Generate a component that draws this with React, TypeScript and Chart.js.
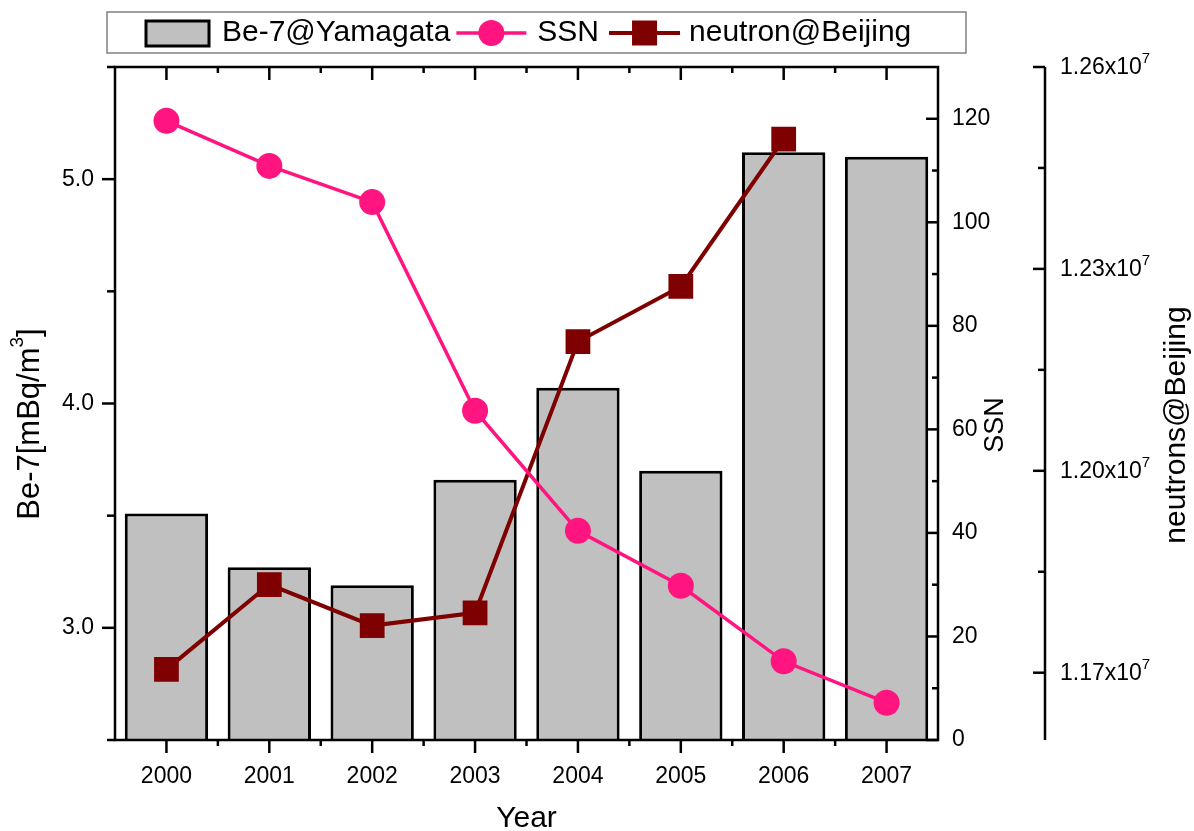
import React, { useEffect, useRef } from 'react';
import { Chart, registerables } from 'chart.js';

Chart.register(...registerables);

const years = ['2000', '2001', '2002', '2003', '2004', '2005', '2006', '2007'];
const be7Values = [3.51, 3.27, 3.19, 3.66, 4.07, 3.70, 5.12, 5.10];
const ssnValues = [119.6, 110.9, 103.9, 63.6, 40.4, 29.8, 15.2, 7.2];
const neutronValues: (number | null)[] = [11705000, 11831000, 11770000, 11789000, 12192000, 12274000, 12493000, null];

const be7Ticks = [3.0, 4.0, 5.0];
const be7Minor = [2.5, 3.5, 4.5, 5.5];
const ssnTicks = [0, 20, 40, 60, 80, 100, 120];
const ssnMinor = [10, 30, 50, 70, 90, 110];
const neutronTicks = [11700000, 12000000, 12300000, 12600000];
const neutronTickMantissa = ['1.17', '1.20', '1.23', '1.26'];
const neutronMinor = [11850000, 12150000, 12450000];

const SSN_COLOR = '#FF1480';
const N_COLOR = '#7F0000';
const BAR_FILL = '#C0C0C0';
const FONT = '"Liberation Sans", Arial, sans-serif';

function drawSupText(ctx: CanvasRenderingContext2D, parts: { t: string; sup?: boolean }[], x: number, y: number, size: number, supSize: number, rise: number, align: 'left' | 'center') {
  let total = 0;
  const widths = parts.map(p => {
    ctx.font = `${p.sup ? supSize : size}px ${FONT}`;
    const w = ctx.measureText(p.t).width;
    total += w;
    return w;
  });
  let cx = align === 'center' ? x - total / 2 : x;
  ctx.textAlign = 'left';
  ctx.textBaseline = 'middle';
  parts.forEach((p, i) => {
    ctx.font = `${p.sup ? supSize : size}px ${FONT}`;
    ctx.fillText(p.t, cx, p.sup ? y - rise : y);
    cx += widths[i];
  });
}

const decorPlugin = {
  id: 'decor',
  afterDraw(chart: any) {
    const ctx: CanvasRenderingContext2D = chart.ctx;
    const { left, right, top, bottom } = chart.chartArea;
    const xS = chart.scales.x;
    const yL = chart.scales.y;
    const yS = chart.scales.ySSN;
    const yN = chart.scales.yN;
    ctx.save();
    ctx.strokeStyle = '#000';
    ctx.fillStyle = '#000';
    ctx.lineWidth = 2.5;
    ctx.lineCap = 'butt';

    const line = (x1: number, y1: number, x2: number, y2: number) => {
      ctx.beginPath();
      ctx.moveTo(x1, y1);
      ctx.lineTo(x2, y2);
      ctx.stroke();
    };

    // frame
    ctx.beginPath();
    ctx.rect(left, top, right - left, bottom - top);
    ctx.stroke();

    // x ticks bottom (outward) and top (inward)
    const n = years.length;
    for (let i = 0; i < n; i++) {
      const px = xS.getPixelForValue(i);
      line(px, bottom, px, bottom + 13);
      line(px, top, px, top + 13);
      if (i < n - 1) {
        const mx = (px + xS.getPixelForValue(i + 1)) / 2;
        line(mx, bottom, mx, bottom + 6);
        line(mx, top, mx, top + 6);
      }
    }

    // left axis ticks (outward)
    be7Ticks.forEach(v => { const py = yL.getPixelForValue(v); line(left - 13, py, left, py); });
    be7Minor.forEach(v => { const py = yL.getPixelForValue(v); line(left - 8, py, left, py); });

    // SSN axis ticks (inward)
    ssnTicks.forEach(v => { const py = yS.getPixelForValue(v); line(right - 12, py, right, py); });
    ssnMinor.forEach(v => { const py = yS.getPixelForValue(v); line(right - 6, py, right, py); });

    // neutron axis
    const nx = yN.left;
    line(nx, yN.getPixelForValue(yN.max), nx, yN.getPixelForValue(yN.min));
    neutronTicks.forEach((v, i) => {
      const py = yN.getPixelForValue(v);
      line(nx - 12, py, nx, py);
      drawSupText(ctx, [{ t: neutronTickMantissa[i] + 'x10' }, { t: '7', sup: true }], nx + 15, py + 1, 23, 15, 9, 'left');
    });
    neutronMinor.forEach(v => { const py = yN.getPixelForValue(v); line(nx - 7, py, nx, py); });

    // axis titles
    ctx.fillStyle = '#000';
    ctx.font = `30px ${FONT}`;
    ctx.textAlign = 'center';
    ctx.textBaseline = 'alphabetic';
    ctx.fillText('Year', (left + right) / 2, 827);

    ctx.save();
    ctx.translate(30, 424);
    ctx.rotate(-Math.PI / 2);
    drawSupText(ctx, [{ t: 'Be-7[mBq/m' }, { t: '3', sup: true }, { t: ']' }], 0, 0, 31, 19, 12, 'center');
    ctx.restore();

    ctx.save();
    ctx.translate(996, 425);
    ctx.rotate(-Math.PI / 2);
    ctx.font = `27px ${FONT}`;
    ctx.textAlign = 'center';
    ctx.textBaseline = 'middle';
    ctx.fillText('SSN', 0, 0);
    ctx.restore();

    ctx.save();
    ctx.translate(1177, 425);
    ctx.rotate(-Math.PI / 2);
    ctx.font = `30px ${FONT}`;
    ctx.textAlign = 'center';
    ctx.textBaseline = 'middle';
    ctx.fillText('neutrons@Beijing', 0, 0);
    ctx.restore();

    // legend
    const ds = chart.data.datasets;
    const barDs = ds.find((d: any) => d.yAxisID === 'y');
    const ssnDs = ds.find((d: any) => d.yAxisID === 'ySSN');
    const nDs = ds.find((d: any) => d.yAxisID === 'yN');
    const ly = 33;
    ctx.lineWidth = 1.5;
    ctx.strokeStyle = '#808080';
    ctx.strokeRect(107, 12, 966 - 107, 41);

    let lx = 146;
    ctx.fillStyle = barDs.backgroundColor;
    ctx.fillRect(lx, 21, 63, 25);
    ctx.lineWidth = 3;
    ctx.strokeStyle = '#000';
    ctx.strokeRect(lx, 21, 63, 25);
    lx += 63 + 13;
    ctx.font = `30px ${FONT}`;
    ctx.textAlign = 'left';
    ctx.textBaseline = 'middle';
    ctx.fillStyle = '#000';
    ctx.fillText(barDs.label, lx, ly);
    lx += ctx.measureText(barDs.label).width + 6;

    ctx.strokeStyle = ssnDs.borderColor;
    ctx.lineWidth = 3.5;
    line(lx, ly, lx + 70, ly);
    ctx.fillStyle = ssnDs.borderColor;
    ctx.beginPath();
    ctx.arc(lx + 35, ly, 13, 0, Math.PI * 2);
    ctx.fill();
    lx += 70 + 11;
    ctx.fillStyle = '#000';
    ctx.fillText(ssnDs.label, lx, ly);
    lx += ctx.measureText(ssnDs.label).width + 10;

    ctx.strokeStyle = nDs.borderColor;
    ctx.lineWidth = 4;
    line(lx, ly, lx + 71, ly);
    ctx.fillStyle = nDs.borderColor;
    ctx.fillRect(lx + 35.5 - 12.5, ly - 12.5, 25, 25);
    lx += 71 + 9;
    ctx.fillStyle = '#000';
    ctx.fillText(nDs.label, lx, ly);

    ctx.restore();
  },
};

export default function App() {
  const ref = useRef<HTMLCanvasElement>(null);
  useEffect(() => {
    document.body.style.margin = '0';
    Chart.defaults.font.family = FONT;
    Chart.defaults.color = '#000';
    const chart = new Chart(ref.current as HTMLCanvasElement, {
      type: 'bar',
      data: {
        labels: years,
        datasets: [
          {
            type: 'line',
            label: 'SSN',
            data: ssnValues,
            yAxisID: 'ySSN',
            borderColor: SSN_COLOR,
            backgroundColor: SSN_COLOR,
            pointBackgroundColor: SSN_COLOR,
            borderWidth: 3.5,
            pointRadius: 13,
            pointStyle: 'circle',
            pointBorderWidth: 0,
            tension: 0,
            order: 1,
          } as any,
          {
            type: 'line',
            label: 'neutron@Beijing',
            data: neutronValues,
            yAxisID: 'yN',
            borderColor: N_COLOR,
            backgroundColor: N_COLOR,
            pointBackgroundColor: N_COLOR,
            borderWidth: 4,
            pointRadius: 17.5,
            pointStyle: 'rect',
            pointBorderWidth: 0,
            tension: 0,
            spanGaps: false,
            order: 2,
          } as any,
          {
            type: 'bar',
            label: 'Be-7@Yamagata',
            data: be7Values,
            yAxisID: 'y',
            backgroundColor: BAR_FILL,
            borderColor: '#000',
            borderWidth: 3,
            borderSkipped: false,
            barPercentage: 0.81,
            categoryPercentage: 1,
            order: 3,
          } as any,
        ],
      },
      options: {
        responsive: false,
        animation: false,
        layout: { padding: { top: 67, left: 0, right: 0, bottom: 0 } },
        plugins: { legend: { display: false }, tooltip: { enabled: false } },
        scales: {
          x: {
            type: 'category',
            offset: true,
            grid: { display: false, drawTicks: false },
            border: { display: false },
            ticks: { font: { size: 23 }, color: '#000', padding: 23, maxRotation: 0, autoSkip: false },
            afterFit: (s: any) => { s.height = 91; },
          },
          y: {
            type: 'linear',
            position: 'left',
            min: 2.5,
            max: 5.5,
            grid: { display: false, drawTicks: false },
            border: { display: false },
            ticks: { font: { size: 23 }, color: '#000', padding: 21, callback: (v: any) => Number(v).toFixed(1) },
            afterBuildTicks: (s: any) => { s.ticks = be7Ticks.map(v => ({ value: v })); },
            afterFit: (s: any) => { s.width = 115; },
          },
          ySSN: {
            type: 'linear',
            position: 'right',
            weight: 1,
            min: 0,
            max: 130,
            grid: { display: false, drawTicks: false },
            border: { display: false },
            ticks: { font: { size: 23 }, color: '#000', padding: 14, callback: (v: any) => String(v) },
            afterBuildTicks: (s: any) => { s.ticks = ssnTicks.map(v => ({ value: v })); },
            afterFit: (s: any) => { s.width = 107; },
          },
          yN: {
            type: 'linear',
            position: 'right',
            weight: 2,
            min: 11600000,
            max: 12600000,
            grid: { display: false, drawTicks: false },
            border: { display: false },
            ticks: { display: false },
            afterFit: (s: any) => { s.width = 149; },
          },
        },
      } as any,
      plugins: [decorPlugin],
    });
    return () => chart.destroy();
  }, []);
  return (
    <div style={{ width: 1194, height: 831 }}>
      <canvas ref={ref} width={1194} height={831} />
    </div>
  );
}
